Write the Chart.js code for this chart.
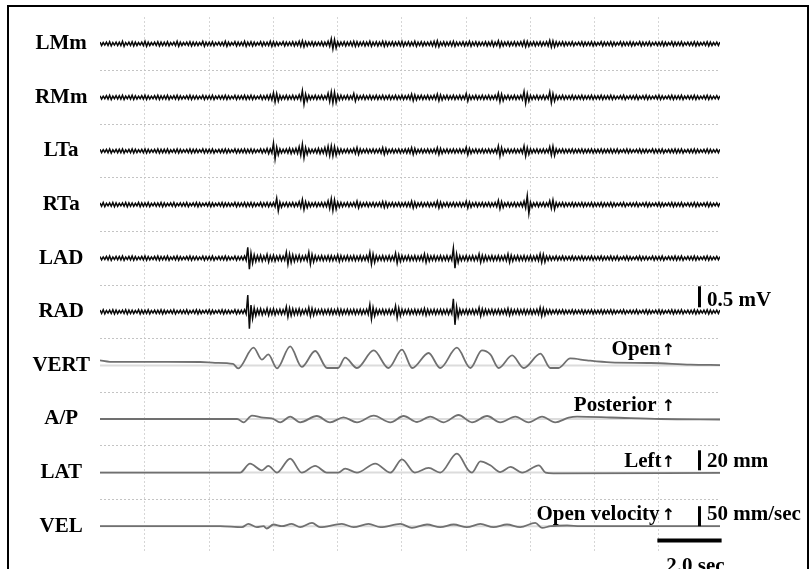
<!DOCTYPE html>
<html>
<head>
<meta charset="utf-8">
<script src="https://cdn.jsdelivr.net/npm/chart.js@4.4.1/dist/chart.umd.min.js"></script>
<style>
  html, body { margin: 0; padding: 0; background: #fff; overflow: hidden; }
  #wrap { position: relative; width: 811px; height: 569px; }
  #frame { position: absolute; left: 7px; top: 5px; width: 798px; height: 600px; border: 2px solid #000; pointer-events: none; }
</style>
</head>
<body>
<div id="wrap">
  <canvas id="myChart" width="811" height="569"></canvas>
  <div id="frame"></div>
</div>
<script>
const channels = ['LMm', 'RMm', 'LTa', 'RTa', 'LAD', 'RAD', 'VERT', 'A/P', 'LAT', 'VEL'];
const gridTimes = [0, 2, 4, 6, 8, 10, 12, 14, 16];   // sec
const tStart = -1.4;
const tEnd = 17.9;

// EMG: peak amplitude in each 0.1 s bin, in tens of µV (bin 0 starts at tStart)
const emgStep = 0.1;
const lmm = [
  4,3,4,5,3,4,4,6,3,4,5,4,3,4,6,4,3,4,5,4,
  4,5,3,4,6,4,3,4,5,4,4,3,6,4,4,5,3,4,4,6,
  4,3,5,4,4,6,4,5,4,3,5,4,4,6,5,4,3,5,4,4,
  5,4,6,7,5,4,5,4,4,5,4,6,12,10,5,4,5,4,5,6,
  5,4,5,4,6,4,5,4,6,5,4,5,4,5,6,4,5,4,6,4,
  5,4,4,5,6,7,4,5,4,5,6,4,4,5,4,6,4,5,4,4,
  5,4,6,4,7,5,4,5,4,5,4,5,7,6,4,5,4,5,4,5,
  8,7,5,4,5,4,4,5,3,4,5,4,4,5,4,3,5,4,4,5,
  4,3,5,4,4,5,4,3,5,4,4,5,3,4,4,5,4,3,5,4,
  4,5,3,4,4,5,4,3,4,5,4,3,4,4
];
const rmm = [
  4,3,4,5,3,4,4,5,3,4,5,4,3,4,5,4,3,4,5,4,
  4,5,3,4,5,4,3,4,5,4,4,3,5,4,4,5,3,4,4,5,
  4,3,5,4,4,5,4,5,4,3,5,4,5,6,11,9,5,4,5,4,
  5,4,6,16,8,5,4,5,4,5,4,10,13,12,6,5,4,5,4,9,
  5,4,5,4,5,4,5,4,5,4,5,4,5,4,5,4,5,8,6,4,
  5,4,5,4,5,8,6,4,5,4,5,4,5,4,9,5,4,5,4,5,
  4,5,4,5,10,8,4,5,4,5,4,5,14,9,5,4,5,4,5,4,
  13,9,5,4,5,4,4,5,4,4,5,4,4,5,4,4,5,4,4,5,
  4,3,4,5,3,4,4,5,3,4,5,4,3,4,5,4,3,4,5,4,
  4,5,3,4,4,5,4,3,4,5,4,3,4,4
];
const lta = [
  4,3,4,5,3,4,4,5,3,4,5,4,3,4,5,4,3,4,5,4,
  4,5,3,4,5,4,3,4,5,4,4,3,5,4,4,5,3,4,4,5,
  4,3,5,4,4,5,4,5,4,3,5,4,6,5,19,9,5,4,5,6,
  5,6,10,16,8,5,4,5,6,5,8,11,12,10,6,5,4,5,4,6,
  8,5,4,5,4,5,4,5,8,6,4,5,4,5,4,5,5,8,6,4,
  5,4,5,4,5,8,6,4,5,4,5,4,5,4,9,6,4,5,4,5,
  4,5,4,5,12,8,4,5,4,5,4,5,12,8,5,4,5,4,5,4,
  10,11,5,4,5,4,4,5,4,4,5,4,4,5,4,4,5,4,4,5,
  4,5,3,4,5,4,3,4,5,4,4,3,5,4,4,5,3,4,4,5,
  4,5,3,4,4,5,4,3,4,5,4,3,4,4
];
const rta = [
  4,5,3,4,5,4,3,4,5,4,4,3,5,4,4,5,3,4,4,5,
  4,3,4,5,3,4,4,5,3,4,5,4,3,4,5,4,3,4,5,4,
  4,3,5,4,4,5,4,5,4,3,5,4,5,4,5,15,6,4,5,4,
  5,4,7,12,7,5,4,5,4,5,5,9,14,11,6,5,4,5,4,5,
  8,5,4,5,4,5,4,5,7,6,4,5,4,5,4,5,5,8,6,4,
  5,4,5,4,5,8,6,4,5,4,5,4,5,4,8,6,4,5,4,5,
  4,5,4,5,10,7,4,5,4,5,4,5,8,21,6,4,5,4,5,4,
  9,11,5,4,5,4,4,5,4,4,5,4,4,5,4,4,5,4,4,5,
  4,3,4,5,3,4,4,5,3,4,5,4,3,4,5,4,3,4,5,4,
  4,5,3,4,4,5,4,3,4,5,4,3,4,4
];
const lad = [
  4,3,4,5,3,4,4,5,3,4,5,4,3,4,5,4,3,4,5,4,
  4,5,3,4,5,4,3,4,5,4,4,3,5,4,4,5,3,4,4,5,
  4,3,5,4,4,5,26,12,8,6,7,5,9,6,7,5,6,5,14,10,
  8,6,7,5,6,14,9,6,5,6,5,6,6,5,8,6,5,6,5,6,
  5,6,5,6,14,10,6,5,6,5,6,5,12,8,6,5,6,5,6,5,
  6,10,7,5,6,5,6,5,6,5,24,10,6,5,6,5,6,5,10,7,
  6,5,6,5,6,5,6,10,7,5,6,5,6,5,6,5,6,10,9,5,
  5,4,5,4,5,4,4,5,4,4,5,4,4,5,4,4,5,4,4,5,
  4,5,3,4,5,4,3,4,5,4,4,3,5,4,4,5,3,4,4,5,
  4,5,3,4,4,5,4,3,4,5,4,3,4,4
];
const rad = [
  4,5,3,4,5,4,3,4,5,4,4,3,5,4,4,5,3,4,4,5,
  4,3,4,5,3,4,4,5,3,4,5,4,3,4,5,4,3,4,5,4,
  4,3,5,4,4,5,40,16,9,6,7,5,8,6,7,5,6,5,12,9,
  7,6,7,5,6,10,8,6,5,6,5,6,6,5,7,6,5,6,5,6,
  5,6,5,6,17,10,6,5,6,5,6,5,14,9,6,5,6,5,6,5,
  6,8,6,5,6,5,6,5,6,5,31,12,6,5,6,5,6,5,10,7,
  6,5,6,5,6,5,6,8,6,5,6,5,6,5,6,5,6,10,8,5,
  5,4,5,4,5,4,4,5,4,4,5,4,4,5,4,4,5,4,4,5,
  4,3,4,5,3,4,4,5,3,4,5,4,3,4,5,4,3,4,5,4,
  4,5,3,4,4,5,4,3,4,5,4,3,4,4
];

// jaw movement, mm (VERT, A/P, LAT) and mm/sec (VEL), read at turning points
const vertT  = [-1.4, -1.09, 1.72, 2.18, 2.74, 2.9, 3.38, 3.64, 3.84, 4.11, 4.52, 4.88, 5.3, 5.67, 6.01, 6.23, 6.6, 7.12, 7.58, 8.0, 8.32, 8.83, 9.19, 9.71, 10.13, 10.49, 10.75, 11.01, 11.43, 11.79, 12.31, 12.62, 12.87, 13.24, 13.76, 14.49, 15.74, 16.98, 17.9];
const vertMm = [5.0, 3.6, 3.4, 2.6, 1.5, -3, 17.7, 5.7, 11, -3, 19, -1.5, 14.4, -2.6, -2.6, 7.7, -2.6, 15, -2.6, 15.7, -2.6, 12.4, -2.6, 17.7, -2.6, 15, 11, -2.6, 10, -2.6, 11.7, -2.6, -2.6, 7, 5, 3, 2.4, 0.8, 0.3];
const apT  = [-1.4, 2.34, 2.87, 3.07, 3.33, 3.68, 3.95, 4.21, 4.52, 4.83, 5.35, 5.76, 6.18, 6.6, 7.12, 7.64, 8.05, 8.47, 8.88, 9.3, 9.76, 10.18, 10.65, 11.06, 11.53, 11.94, 12.36, 12.77, 13.19, 13.45, 14.49, 16.05, 17.9];
const apMm = [0, 0, 0, -3.3, 3.3, 1.3, 0.7, -3.3, 2.3, -3.3, 3, -3.3, 1.6, -3.3, 3.3, -3.3, 3, -3, 2.3, -3.3, 4, -3.3, 3, -3.3, 2.3, -3.3, 2.3, -3.3, 1.3, 2.3, 1.5, 0, -0.5];
const latT  = [-1.4, 2.34, 2.96, 3.27, 3.64, 3.84, 4.11, 4.52, 4.88, 5.3, 5.66, 6.02, 6.23, 6.6, 7.17, 7.64, 8.0, 8.4, 8.83, 9.19, 9.71, 10.07, 10.18, 10.44, 10.75, 11.06, 11.38, 11.74, 12.26, 12.47, 12.71, 17.9];
const latMm = [0, 0, 0, 9, 2.3, 6.7, 0, 14, 0, 6.7, 0, 0, 4, 0, 9, 0, 13.3, 0, 4.7, 0, 19, 2.3, 0, 11.3, 7.3, 0.5, 5.7, 0, 7.3, 0, -0.7, -0.3];
const velT   = [-1.4, 2.34, 3.02, 3.22, 3.48, 3.69, 3.79, 4.0, 4.26, 4.57, 4.83, 5.2, 5.45, 6.13, 6.49, 6.96, 7.33, 7.95, 8.31, 8.78, 9.19, 9.61, 10.02, 10.44, 10.85, 11.27, 11.68, 12.15, 12.36, 12.62, 13.14, 13.55, 17.9];
const velMms = [0, 0, -2.5, 5.8, -2.5, 0, -5.8, 4.2, 0, 5.8, -2.5, 8.3, -2.5, 5.8, -2.5, 5.8, -2.5, 5.8, -4.2, 4.2, -2.5, 4.2, -2.5, 5.8, -2.5, 4.2, -2.5, 8.3, -4.2, 0, 1.8, 0, 0];

// layout of the record: traces stacked, 1 unit = 1 mm of paper
const rowGap = 53.6;
const rowY = k => -k * rowGap;
const emgGain = 21 / 500;   // mm per µV  (0.5 mV bar)
const velGain = 20 / 50;    // mm per mm/sec (50 mm/sec bar)

function emgPoints(arr, k) {
  const pts = [];
  arr.forEach((a, i) => {
    const t = tStart + i * emgStep;
    const amp = a * 10 * emgGain;
    pts.push({ x: t, y: rowY(k) + amp });
    pts.push({ x: t + emgStep / 2, y: rowY(k) - amp });
  });
  return pts;
}

function jawPoints(times, vals, k, gain) {
  return times.map((t, i) => ({ x: t, y: rowY(k) + vals[i] * gain }));
}

const emgSet = (arr, k) => ({
  data: emgPoints(arr, k),
  borderColor: '#0a0a0a',
  borderWidth: 1.5,
  pointRadius: 0,
  tension: 0,
  order: 1
});

const jawSet = (pts) => ({
  data: pts,
  borderColor: '#707070',
  borderWidth: 1.8,
  pointRadius: 0,
  tension: 0.4,
  cubicInterpolationMode: 'monotone',
  order: 1
});

const baseSet = (k) => ({
  data: [{ x: tStart, y: rowY(k) }, { x: tEnd, y: rowY(k) }],
  borderColor: '#dcdcdc',
  borderWidth: 2,
  pointRadius: 0,
  order: 2
});

const yTicks = [];
channels.forEach((c, k) => {
  yTicks.push({ value: rowY(k) });
  if (k < channels.length - 1) yTicks.push({ value: rowY(k) - rowGap / 2 });
});

const labelFont = { family: 'Liberation Serif', size: 21, weight: 'bold' };

const notes = {
  id: 'notes',
  afterDraw(chart) {
    const { ctx, chartArea, scales: { x, y } } = chart;
    const py = (k, mm) => y.getPixelForValue(rowY(k) + mm);
    ctx.save();
    ctx.fillStyle = '#000';
    ctx.strokeStyle = '#000';
    ctx.textBaseline = 'alphabetic';

    // direction notes, arrow drawn as its own glyph
    const arrowX = chartArea.right - 45;
    const note = (text, gap, yPix) => {
      ctx.font = 'bold 16px "DejaVu Sans"';
      ctx.textAlign = 'right';
      ctx.fillText('\u2191', arrowX, yPix);
      const aw = ctx.measureText('\u2191').width;
      ctx.font = 'bold 21px "Liberation Serif"';
      ctx.fillText(text, arrowX - aw - gap, yPix);
    };
    note('Open', 1, py(6, 10.5));
    note('Posterior', 5, py(7, 8.3));
    note('Left', 0, py(8, 5.6));
    note('Open velocity', 2, py(9, 6.2));

    // calibration bars
    ctx.font = 'bold 21px "Liberation Serif"';
    const barX = chartArea.right - 20.5;
    const textX = chartArea.right - 13;
    ctx.lineWidth = 3;
    const vbar = (k, from, len) => {
      ctx.beginPath();
      ctx.moveTo(barX, py(k, from));
      ctx.lineTo(barX, py(k, from + len));
      ctx.stroke();
    };
    vbar(5, 4.5, 500 * emgGain);
    vbar(8, 2.3, 20);
    vbar(9, 0, 50 * velGain);
    ctx.textAlign = 'left';
    ctx.fillText('0.5 mV', textX, py(5, 6.2));
    ctx.fillText('20 mm', textX, py(8, 5.6));
    ctx.fillText('50 mm/sec', textX, py(9, 6.2));

    // time bar
    ctx.lineWidth = 4;
    ctx.beginPath();
    ctx.moveTo(x.getPixelForValue(tEnd + 0.05 - 2.0), py(9, -14.3));
    ctx.lineTo(x.getPixelForValue(tEnd + 0.05), py(9, -14.3));
    ctx.stroke();
    ctx.fillText('2.0 sec', x.getPixelForValue(tEnd + 0.05 - 2.0) + 9, py(9, -45.8));
    ctx.restore();
  }
};

new Chart(document.getElementById('myChart'), {
  type: 'line',
  data: {
    datasets: [
      emgSet(lmm, 0), emgSet(rmm, 1), emgSet(lta, 2),
      emgSet(rta, 3), emgSet(lad, 4), emgSet(rad, 5),
      jawSet(jawPoints(vertT, vertMm, 6, 1)),
      jawSet(jawPoints(apT, apMm, 7, 1)),
      jawSet(jawPoints(latT, latMm, 8, 1)),
      jawSet(jawPoints(velT, velMms, 9, velGain)),
      baseSet(6), baseSet(7), baseSet(8), baseSet(9)
    ]
  },
  options: {
    responsive: false,
    animation: false,
    layout: { padding: { top: 17, right: 91, bottom: 16, left: 0 } },
    plugins: { legend: { display: false }, tooltip: { enabled: false } },
    scales: {
      x: {
        type: 'linear',
        min: tStart,
        max: tEnd,
        afterBuildTicks: axis => { axis.ticks = gridTimes.map(v => ({ value: v })); },
        afterFit: scale => {
          scale.height = 0;
          scale.paddingLeft = scale.paddingRight = scale.paddingTop = scale.paddingBottom = 0;
        },
        ticks: { display: false },
        grid: { color: '#d6d6d6', lineWidth: 1, drawTicks: false },
        border: { display: false, dash: [2, 2] }
      },
      y: {
        type: 'linear',
        min: rowY(9) - rowGap / 2,
        max: rowGap / 2,
        afterBuildTicks: axis => { axis.ticks = yTicks.map(t => ({ value: t.value })); },
        afterFit: scale => {
          scale.width = 100;
          scale.paddingLeft = scale.paddingRight = scale.paddingTop = scale.paddingBottom = 0;
        },
        ticks: {
          autoSkip: false,
          padding: 10,
          crossAlign: 'center',
          color: '#000',
          font: labelFont,
          callback: (v, i) => (i % 2 === 0 ? channels[i / 2] : '')
        },
        grid: {
          drawTicks: false,
          lineWidth: 1,
          color: ctx => (ctx.index % 2 === 1 ? '#c4c4c4' : 'rgba(0,0,0,0)')
        },
        border: { display: false, dash: [2, 2] }
      }
    }
  },
  plugins: [notes]
});
</script>
</body>
</html>
